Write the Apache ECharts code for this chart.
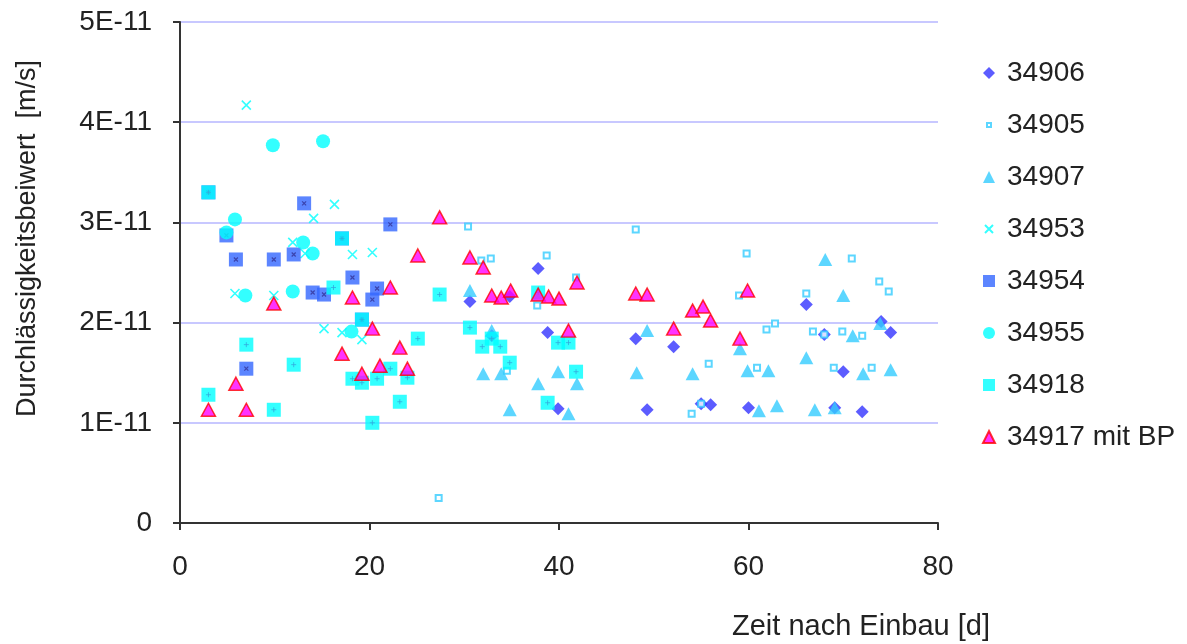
<!DOCTYPE html>
<html><head><meta charset="utf-8">
<script src="https://cdn.jsdelivr.net/npm/echarts@6/dist/echarts.min.js"></script>
<style>html,body{margin:0;padding:0;background:#fff}#c{width:1187px;height:644px}</style>
</head><body><div id="c"></div>
<script>
// values in units of 1E-11 m/s ; x = days
const s34906 = [[30.6,2.21],[32.9,1.87],[34.8,2.26],[37.8,2.54],[38.8,1.90],[39.9,1.14],[48.1,1.84],[49.3,1.13],[52.1,1.76],[55.0,1.19],[56.0,1.18],[60.0,1.15],[66.1,2.18],[68.0,1.88],[69.1,1.15],[70.0,1.51],[72.0,1.11],[74.0,2.01],[75.0,1.90]];
const s34905 = [[27.3,0.25],[30.4,2.96],[31.8,2.62],[32.8,2.64],[34.5,1.52],[37.7,2.17],[38.7,2.67],[41.8,2.45],[48.1,2.93],[54.0,1.09],[55.0,1.19],[55.8,1.59],[59.0,2.27],[59.8,2.69],[60.9,1.55],[61.9,1.93],[62.8,1.99],[66.1,2.29],[66.8,1.91],[68.0,1.88],[69.0,1.55],[69.9,1.91],[70.9,2.64],[72.0,1.87],[73.0,1.55],[73.8,2.41],[74.8,2.31]];
const s34907 = [[30.6,2.32],[32.0,1.49],[32.9,1.92],[33.9,1.49],[34.8,1.13],[37.8,1.39],[39.9,1.51],[41.0,1.09],[41.9,1.39],[48.2,1.50],[49.3,1.92],[54.1,1.49],[59.1,1.74],[59.9,1.52],[61.1,1.12],[62.1,1.52],[63.0,1.17],[66.1,1.65],[67.0,1.13],[68.1,2.63],[69.1,1.15],[70.0,2.27],[71.0,1.87],[72.1,1.49],[73.9,1.99],[75.0,1.53]];
const s34953 = [[5.8,2.29],[7.0,4.17],[9.9,2.27],[11.9,2.80],[13.2,2.69],[14.1,3.04],[15.2,1.94],[16.3,3.18],[17.1,1.90],[18.2,2.68],[19.2,1.83],[20.3,2.70]];
const s34954 = [[3.0,3.30],[4.9,2.87],[5.9,2.63],[7.0,1.54],[9.9,2.63],[12.0,2.68],[13.1,3.19],[14.0,2.30],[15.2,2.28],[17.1,2.84],[18.2,2.45],[19.2,2.03],[20.3,2.23],[20.8,2.34],[22.2,2.98]];
const s34955 = [[4.9,2.90],[5.8,3.03],[6.9,2.27],[9.8,3.77],[11.9,2.31],[13.0,2.80],[14.0,2.69],[15.1,3.81],[18.1,1.91]];
const s34918 = [[3.0,3.30],[3.0,1.28],[7.0,1.78],[9.9,1.13],[12.0,1.58],[16.2,2.35],[17.1,2.84],[18.2,1.44],[19.2,2.03],[19.2,1.40],[20.3,1.00],[20.8,1.44],[22.2,1.54],[23.2,1.21],[24.0,1.45],[25.1,1.84],[27.4,2.28],[30.6,1.95],[31.9,1.76],[32.9,1.84],[33.8,1.76],[34.8,1.60],[37.8,2.30],[38.8,1.20],[39.9,1.80],[41.0,1.80],[41.8,1.51]];
const s34917 = [[3.0,1.13],[5.9,1.39],[7.0,1.13],[9.9,2.19],[17.1,1.69],[18.2,2.25],[19.2,1.49],[20.3,1.94],[21.1,1.57],[22.2,2.35],[23.2,1.75],[24.0,1.54],[25.1,2.67],[27.4,3.05],[30.6,2.65],[32.0,2.55],[32.9,2.27],[33.9,2.25],[34.9,2.32],[37.8,2.28],[38.9,2.26],[40.0,2.24],[41.0,1.92],[41.9,2.40],[48.1,2.29],[49.3,2.28],[52.1,1.94],[54.1,2.12],[55.2,2.16],[56.0,2.02],[59.1,1.84],[59.9,2.32]];
const names = ['34906','34905','34907','34953','34954','34955','34918','34917 mit BP'];
const xTicks = [0,20,40,60,80];
const yTickLabels = ['0','1E-11','2E-11','3E-11','4E-11','5E-11'];

const font = 'Liberation Sans, Arial, sans-serif';
const chart = echarts.init(document.getElementById('c'), null, {renderer:'canvas'});
const X = 'path://M0,0L10,10M10,0L0,10';
const smallSq = 'path://M-4,-4M14,14M2,2L8,2L8,8L2,8Z';
chart.setOption({
  animation:false,
  backgroundColor:'#fff',
  grid:{left:180,right:249,top:22,bottom:121,containLabel:false},
  xAxis:{type:'value',min:0,max:80,interval:20,
    axisLine:{show:true,onZero:false,lineStyle:{color:'#333',width:2}},
    axisTick:{show:true,inside:false,length:7,lineStyle:{color:'#333',width:2}},
    axisLabel:{margin:30,fontSize:28,lineHeight:28,color:'#222',fontFamily:font,formatter:v=>xTicks.includes(v)?String(v):''},
    splitLine:{show:false}},
  yAxis:{type:'value',min:0,max:5,interval:1,
    axisLine:{show:true,lineStyle:{color:'#333',width:2}},
    axisTick:{show:true,length:7,lineStyle:{color:'#333',width:2}},
    axisLabel:{margin:28,fontSize:28,color:'#222',fontFamily:font,formatter:v=>yTickLabels[Math.round(v)]},
    splitLine:{show:true,lineStyle:{color:'#C8C8FF',width:2}}},
  legend:{orient:'vertical',left:977,top:54,itemGap:24,itemWidth:12,itemHeight:12,
    textStyle:{fontSize:28,lineHeight:28,color:'#222',fontFamily:font,padding:[0,0,0,7]},
    data:[names[0],{name:names[1],icon:smallSq},names[2],{name:names[3],icon:'path://M-1,-1M11,11M1,1L9,9M9,1L1,9'},names[4],names[5],names[6],names[7]]},
  graphic:[
    {type:'text',left:14,top:60,rotation:Math.PI/2,style:{text:'Durchlässigkeitsbeiwert  [m/s]',fill:'#222',font:'27px '+font}},
    {type:'text',left:732,top:612,style:{text:'Zeit nach Einbau [d]',fill:'#222',font:'29px '+font}}
  ],
  series:[
    {name:names[0],type:'scatter',data:s34906,symbol:'diamond',symbolSize:13,itemStyle:{color:'#3333FF'}},
    {name:names[1],type:'scatter',data:s34905,symbol:'rect',symbolSize:6,itemStyle:{color:'#fff',borderColor:'#33CCFF',borderWidth:2}},
    {name:names[2],type:'scatter',data:s34907,symbol:'triangle',symbolSize:[14,13],itemStyle:{color:'#33CCFF'}},
    {name:names[3],type:'scatter',data:s34953,symbol:X,symbolSize:9,itemStyle:{color:'rgba(0,0,0,0)',borderColor:'#00FFFF',borderWidth:1.6}},
    {name:names[4],type:'scatter',data:s34954,symbol:'rect',symbolSize:14,itemStyle:{color:'#3366FF'}},
    {name:'m4',type:'scatter',data:s34954,symbol:X,symbolSize:4,silent:true,itemStyle:{color:'rgba(0,0,0,0)',borderColor:'#333399',borderWidth:1.2}},
    {name:names[5],type:'scatter',data:s34955,symbol:'circle',symbolSize:14,itemStyle:{color:'#00FFFF'}},
    {name:names[6],type:'scatter',data:s34918,symbol:'rect',symbolSize:14,itemStyle:{color:'#00FFFF'}},
    {name:'m6',type:'scatter',data:s34918,symbol:'path://M5,0L5,10M0,5L10,5',symbolSize:5,silent:true,itemStyle:{color:'rgba(0,0,0,0)',borderColor:'#33AADD',borderWidth:1}},
    {name:names[7],type:'scatter',data:s34917,symbol:'triangle',symbolSize:[14,13],itemStyle:{color:'#FF00FF',borderColor:'#FF0000',borderWidth:1.5}}
  ]
});
</script></body></html>
